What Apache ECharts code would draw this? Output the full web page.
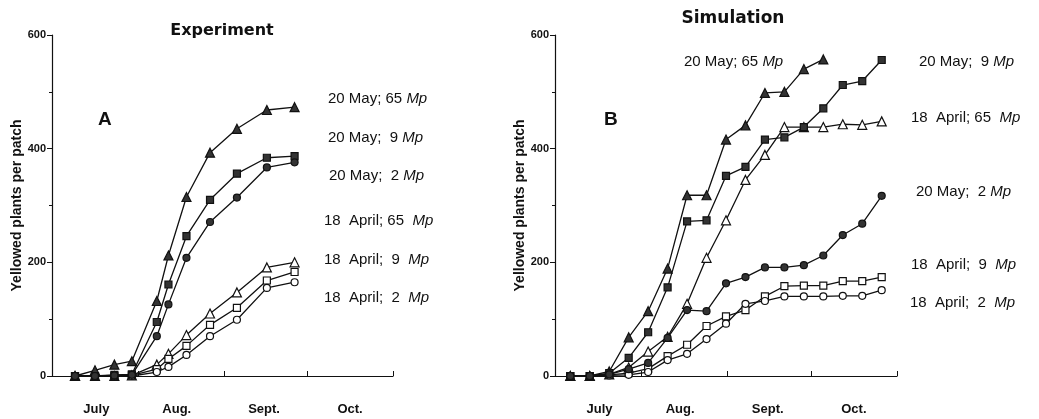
<!DOCTYPE html>
<html>
<head>
<meta charset="utf-8">
<script src="https://cdn.jsdelivr.net/npm/echarts@6/dist/echarts.min.js"></script>
<style>
html, body { margin: 0; padding: 0; background: #fff; }
#chart { width: 1039px; height: 419px; }
</style>
</head>
<body>
<div id="chart"></div>
<script>
// x values are days after 1 July
const monthTicks = [31, 62, 92, 123];
const monthMid = [16, 45, 76.5, 107.5];
const monthNames = ["July", "Aug.", "Sept.", "Oct."];

// A: Experiment
const daysA = [8.3, 15.5, 22.5, 28.8, 37.8, 42, 48.5, 57, 66.7, 77.5, 87.5];
const expMay65 = [0, 10, 20, 26, 132, 212, 315, 393, 435, 468, 473];
const expMay9 = [0, 0, 2, 3, 95, 161, 246, 310, 356, 384, 387];
const expMay2 = [0, 0, 1, 2, 70, 126, 208, 271, 314, 367, 376];
const expApr65 = [0, 0, 0, 1, 20, 39, 72, 110, 147, 191, 200];
const expApr9 = [0, 0, 0, 1, 12, 30, 53, 90, 120, 168, 183];
const expApr2 = [0, 0, 0, 0, 7, 16, 37, 70, 99, 155, 165];

// B: Simulation
const daysB = [5.5, 12.5, 19.5, 26.5, 33.5, 40.5, 47.5, 54.5, 61.5, 68.5, 75.5, 82.5, 89.5, 96.5, 103.5, 110.5, 117.5];
const simMay65 = [0, 0, 8, 68, 114, 189, 318, 318, 416, 441, 498, 500, 540, 557];
const simMay9 = [0, 0, 5, 32, 77, 156, 272, 274, 352, 368, 416, 420, 438, 471, 512, 519, 556];
const simApr65 = [0, 0, 3, 15, 43, 69, 127, 208, 274, 345, 389, 438, 438, 438, 443, 442, 448];
const simMay2 = [0, 0, 3, 12, 23, 67, 116, 114, 163, 174, 191, 191, 195, 212, 248, 268, 317];
const simApr9 = [0, 0, 2, 5, 13, 35, 55, 88, 105, 116, 140, 158, 159, 159, 167, 167, 174];
const simApr2 = [0, 0, 1, 2, 7, 28, 39, 65, 92, 127, 132, 140, 140, 140, 141, 141, 151];

const yTicks = [0, 200, 400, 600];

function pairs(xs, ys) {
  return ys.map((y, i) => [xs[i], y]);
}

function line(name, xs, ys, idx, symbol, filled) {
  const size = symbol === "triangle" ? 9 : 7;
  return {
    name: name,
    type: "line",
    xAxisIndex: idx,
    yAxisIndex: idx,
    data: pairs(xs, ys),
    symbol: symbol,
    symbolSize: size,
    showAllSymbol: true,
    lineStyle: { color: "#111", width: 1.3 },
    itemStyle: {
      color: filled ? "#333" : "#fff",
      borderColor: "#111",
      borderWidth: 1.2,
    },
    z: filled ? 3 : 2,
  };
}

function xAxis(idx) {
  return {
    type: "value",
    gridIndex: idx,
    min: 0,
    max: 123,
    axisLine: { lineStyle: { color: "#111", width: 1.2 } },
    axisTick: { inside: true, length: 5, customValues: monthTicks, lineStyle: { color: "#111" } },
    axisLabel: {
      customValues: monthMid,
      formatter: (v) => monthNames[monthMid.indexOf(v)],
      color: "#111",
      fontWeight: "bold",
      fontSize: 13,
      fontFamily: "Liberation Sans",
      margin: 27,
    },
    splitLine: { show: false },
  };
}

function yAxis(idx) {
  return {
    type: "value",
    gridIndex: idx,
    min: 0,
    max: 600,
    interval: 200,
    name: "Yellowed plants per patch",
    nameLocation: "middle",
    nameRotate: 90,
    nameGap: 27,
    nameTextStyle: { color: "#111", fontWeight: "bold", fontSize: 14, fontFamily: "Liberation Sans" },
    axisLine: { show: true, lineStyle: { color: "#111", width: 1.2 } },
    axisTick: { show: true, length: 5, lineStyle: { color: "#111" } },
    minorTick: { show: true, splitNumber: 2, length: 3, lineStyle: { color: "#111" } },
    axisLabel: {
      color: "#111",
      fontWeight: "bold",
      fontSize: 11,
      fontFamily: "Liberation Sans",
      margin: 6,
      customValues: yTicks,
    },
    splitLine: { show: false },
  };
}

function tag(left, y, pre) {
  return {
    type: "text",
    left: left,
    top: y - 9,
    style: {
      text: "{r|" + pre + "}{i|Mp}",
      rich: {
        r: { fontSize: 15, fontFamily: "Liberation Sans", fill: "#111" },
        i: { fontSize: 15, fontFamily: "Liberation Sans", fontStyle: "italic", fill: "#111" },
      },
    },
  };
}

const chart = echarts.init(document.getElementById("chart"));
chart.setOption({
  animation: false,
  backgroundColor: "#fff",
  title: [
    {
      text: "Experiment",
      left: 217, top: 18, textAlign: "center",
      textStyle: { fontFamily: "DejaVu Sans", fontWeight: "bold", fontSize: 16, color: "#111" },
    },
    {
      text: "Simulation",
      left: 728, top: 5, textAlign: "center",
      textStyle: { fontFamily: "DejaVu Sans", fontWeight: "bold", fontSize: 17, color: "#111" },
    },
  ],
  grid: [
    { left: 52, top: 35, width: 341, height: 341 },
    { left: 555, top: 35, width: 342, height: 341 },
  ],
  xAxis: [xAxis(0), xAxis(1)],
  yAxis: [yAxis(0), yAxis(1)],
  series: [
    line("20 May; 65 Mp", daysA, expMay65, 0, "triangle", true),
    line("20 May; 9 Mp", daysA, expMay9, 0, "rect", true),
    line("20 May; 2 Mp", daysA, expMay2, 0, "circle", true),
    line("18 April; 65 Mp", daysA, expApr65, 0, "triangle", false),
    line("18 April; 9 Mp", daysA, expApr9, 0, "rect", false),
    line("18 April; 2 Mp", daysA, expApr2, 0, "circle", false),
    line("20 May; 65 Mp", daysB, simMay65, 1, "triangle", true),
    line("20 May; 9 Mp", daysB, simMay9, 1, "rect", true),
    line("20 May; 2 Mp", daysB, simMay2, 1, "circle", true),
    line("18 April; 65 Mp", daysB, simApr65, 1, "triangle", false),
    line("18 April; 9 Mp", daysB, simApr9, 1, "rect", false),
    line("18 April; 2 Mp", daysB, simApr2, 1, "circle", false),
  ],
  graphic: [
    { type: "text", left: 98, top: 110, style: { text: "A", fontSize: 19, fontWeight: "bold", fontFamily: "Liberation Sans", fill: "#111" } },
    { type: "text", left: 604, top: 110, style: { text: "B", fontSize: 19, fontWeight: "bold", fontFamily: "Liberation Sans", fill: "#111" } },
    tag(328, 100, "20 May; 65 "),
    tag(328, 139, "20 May;  9 "),
    tag(329, 177, "20 May;  2 "),
    tag(324, 222, "18  April; 65  "),
    tag(324, 261, "18  April;  9  "),
    tag(324, 299, "18  April;  2  "),
    tag(684, 63, "20 May; 65 "),
    tag(919, 63, "20 May;  9 "),
    tag(911, 119, "18  April; 65  "),
    tag(916, 193, "20 May;  2 "),
    tag(911, 266, "18  April;  9  "),
    tag(910, 304, "18  April;  2  "),
  ],
});
</script>
</body>
</html>
